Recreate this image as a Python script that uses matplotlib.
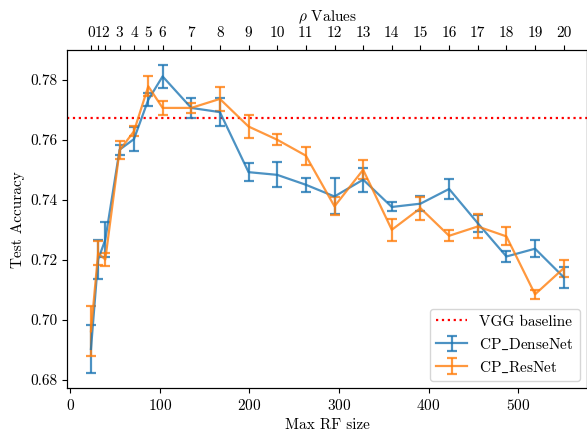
import matplotlib
matplotlib.use("Agg")
import matplotlib.pyplot as plt

rf_sizes = [23, 31, 39, 55, 71, 87, 103, 135, 167, 199, 231, 263, 295, 327, 359, 391, 423, 455, 487, 519, 551]
rho_labels = [str(i) for i in range(21)]

dense_mean = [0.6903, 0.7201, 0.7267, 0.7567, 0.7602, 0.7733, 0.7811, 0.7706, 0.7692, 0.7492, 0.7483,
              0.7450, 0.7411, 0.7467, 0.7376, 0.7387, 0.7436, 0.7322, 0.7211, 0.7237, 0.7142]
dense_err = [0.0080, 0.0066, 0.0058, 0.0017, 0.0039, 0.0022, 0.0037, 0.0033, 0.0047, 0.0030, 0.0042,
             0.0024, 0.0060, 0.0040, 0.0015, 0.0025, 0.0033, 0.0028, 0.0017, 0.0028, 0.0035]

res_mean = [0.6962, 0.7222, 0.7201, 0.7565, 0.7628, 0.7778, 0.7706, 0.7706, 0.7736, 0.7644, 0.7600,
            0.7547, 0.7378, 0.7500, 0.7300, 0.7372, 0.7280, 0.7311, 0.7278, 0.7085, 0.7172]
res_err = [0.0084, 0.0040, 0.0023, 0.0030, 0.0017, 0.0033, 0.0022, 0.0018, 0.0040, 0.0038, 0.0018,
           0.0030, 0.0030, 0.0031, 0.0036, 0.0038, 0.0019, 0.0040, 0.0030, 0.0016, 0.0028]

vgg_baseline = 0.7672

plt.rcParams['font.family'] = ['cmr10', 'DejaVu Serif']
plt.rcParams['mathtext.fontset'] = 'cm'
plt.rcParams['axes.formatter.use_mathtext'] = True
plt.rcParams['font.size'] = 11

fig = plt.figure(figsize=(5.87, 4.32), dpi=100)
ax = fig.add_axes([0.1147, 0.1012, 0.8859, 0.7831])

ax.axhline(vgg_baseline, color='red', linestyle=':', linewidth=1.6, label='VGG baseline')
ax.errorbar(rf_sizes, dense_mean, yerr=dense_err, color='tab:blue', alpha=0.8, linewidth=1.6,
            capsize=3.5, capthick=1.6, label=r'CP$\_$DenseNet')
ax.errorbar(rf_sizes, res_mean, yerr=res_err, color='tab:orange', alpha=0.8, linewidth=1.6,
            capsize=3.5, capthick=1.6, label=r'CP$\_$ResNet')

ax.set_xlim(-3.4, 577.4)
ax.set_ylim(0.6772, 0.7899)
ax.set_xticks([0, 100, 200, 300, 400, 500])
ax.set_yticks([0.68, 0.70, 0.72, 0.74, 0.76, 0.78])
ax.set_yticklabels(['0.68', '0.70', '0.72', '0.74', '0.76', '0.78'])
ax.set_xlabel('Max RF size')
ax.set_ylabel('Test Accuracy')
ax.legend(loc='lower right')

ax2 = ax.twiny()
ax2.set_xlim(ax.get_xlim())
ax2.set_xticks(rf_sizes)
ax2.set_xticklabels(rho_labels)
ax2.set_xlabel(r'$\rho$ Values')

fig.savefig('out.png', dpi=100)
